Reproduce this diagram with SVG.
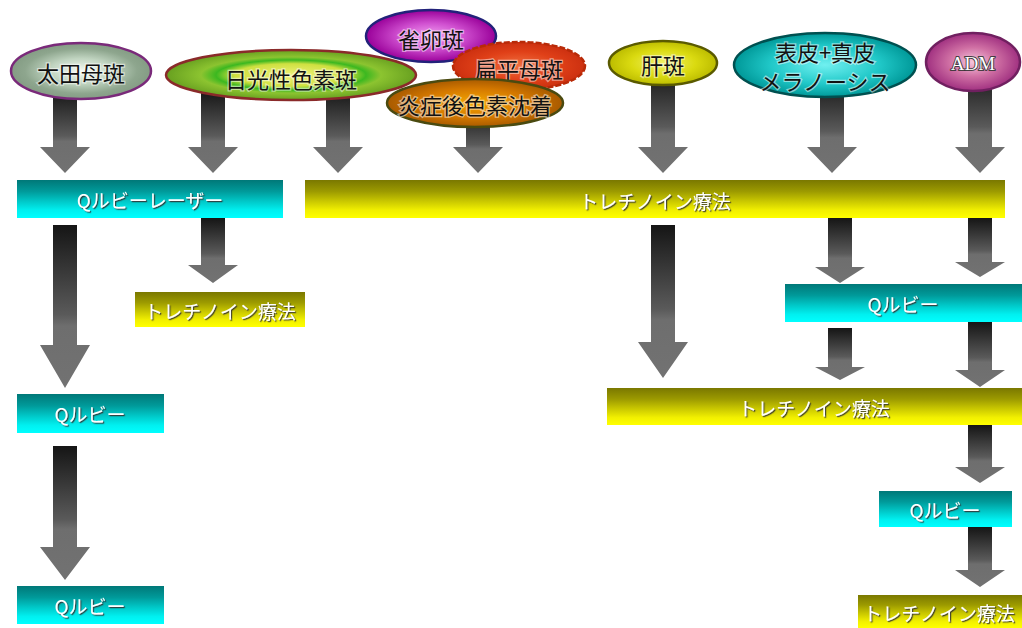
<svg xmlns="http://www.w3.org/2000/svg" width="1022" height="628" viewBox="0 0 1022 628">
<defs>
<linearGradient id="gTeal" x1="0" y1="0" x2="0" y2="1">
<stop offset="0" stop-color="#007878"/><stop offset="0.3" stop-color="#009a9a"/><stop offset="0.55" stop-color="#00c6c6"/><stop offset="0.8" stop-color="#00f0f0"/><stop offset="1" stop-color="#00ffff"/>
</linearGradient>
<linearGradient id="gYel" x1="0" y1="0" x2="0" y2="1">
<stop offset="0" stop-color="#7a7800"/><stop offset="0.3" stop-color="#9c9a00"/><stop offset="0.55" stop-color="#c8c600"/><stop offset="0.8" stop-color="#f2f000"/><stop offset="1" stop-color="#ffff00"/>
</linearGradient>
<linearGradient id="gArrow" x1="0" y1="0" x2="0" y2="1">
<stop offset="0" stop-color="#151515"/><stop offset="0.55" stop-color="#5a5a5a"/><stop offset="0.62" stop-color="#6e6e6e"/><stop offset="1" stop-color="#727272"/>
</linearGradient>
<radialGradient id="eOta"><stop offset="0" stop-color="#f4faf4"/><stop offset="0.45" stop-color="#c0d4c0"/><stop offset="0.8" stop-color="#8ea68e"/><stop offset="1" stop-color="#849c84"/></radialGradient>
<radialGradient id="eNik"><stop offset="0" stop-color="#eef27a"/><stop offset="0.45" stop-color="#cfe040"/><stop offset="0.6" stop-color="#3cb820"/><stop offset="0.72" stop-color="#8cc430"/><stop offset="1" stop-color="#68a020"/></radialGradient>
<radialGradient id="eJak"><stop offset="0" stop-color="#f2a0f2"/><stop offset="0.5" stop-color="#d050d0"/><stop offset="1" stop-color="#990099"/></radialGradient>
<radialGradient id="eHen"><stop offset="0" stop-color="#f07040"/><stop offset="0.6" stop-color="#e04018"/><stop offset="1" stop-color="#cc3010"/></radialGradient>
<radialGradient id="eEns"><stop offset="0" stop-color="#f4a800"/><stop offset="0.6" stop-color="#d47800"/><stop offset="1" stop-color="#a85a00"/></radialGradient>
<radialGradient id="eKan"><stop offset="0" stop-color="#f2f26a"/><stop offset="0.6" stop-color="#dada10"/><stop offset="1" stop-color="#bcbc00"/></radialGradient>
<radialGradient id="eHyo"><stop offset="0" stop-color="#70f0f0"/><stop offset="0.6" stop-color="#20c8c8"/><stop offset="1" stop-color="#009898"/></radialGradient>
<radialGradient id="eAdm"><stop offset="0" stop-color="#f6c6dc"/><stop offset="0.5" stop-color="#d070a4"/><stop offset="1" stop-color="#a03080"/></radialGradient>
<filter id="shadow" x="-10%" y="-30%" width="120%" height="160%">
<feDropShadow dx="1.2" dy="1.2" stdDeviation="0.6" flood-color="#333" flood-opacity="0.9"/>
</filter>
<style>
.bar text{font-family:"Noto Sans CJK JP","Noto Sans",sans-serif;font-size:19px;fill:#ffffff;text-anchor:middle;dominant-baseline:central;filter:url(#shadow);}
.teal{fill:url(#gTeal);}
.yel{fill:url(#gYel);}
.arrow{fill:url(#gArrow);}
.ell text{font-family:"Noto Sans CJK JP","Noto Sans",sans-serif;font-size:22px;fill:#111;text-anchor:middle;dominant-baseline:central;stroke:#fff;stroke-width:2.5;paint-order:stroke;stroke-opacity:0.5;}
.ell ellipse{stroke-width:2.5;}
</style>
</defs>
<rect width="1022" height="628" fill="#ffffff"/>

<g id="connectors">
<path class="arrow" d="M53,90 H77 V147 H90 L65,173 L40,147 H53 Z"/>
<path class="arrow" d="M201,90 H225 V147 H238 L213,173 L188,147 H201 Z"/>
<path class="arrow" d="M326,90 H350 V147 H363 L338,173 L313,147 H326 Z"/>
<path class="arrow" d="M466,110 H490 V147 H503 L478,173 L453,147 H466 Z"/>
<path class="arrow" d="M651,70 H675 V147 H688 L663,173 L638,147 H651 Z"/>
<path class="arrow" d="M820,80 H844 V147 H857 L832,173 L807,147 H820 Z"/>
<path class="arrow" d="M968,70 H992 V147 H1005 L980,173 L955,147 H968 Z"/>

<path class="arrow" d="M53,225 H77 V345 H90 L65,388 L40,345 H53 Z"/>
<path class="arrow" d="M201,218 H225 V265 H238 L213,283 L188,265 H201 Z"/>
<path class="arrow" d="M651,225 H675 V342 H688 L663,378 L638,342 H651 Z"/>
<path class="arrow" d="M828,218 H852 V267 H865 L840,283 L815,267 H828 Z"/>
<path class="arrow" d="M968,218 H992 V262 H1005 L980,277 L955,262 H968 Z"/>
<path class="arrow" d="M828,328 H852 V367 H865 L840,380 L815,367 H828 Z"/>
<path class="arrow" d="M968,322 H992 V370 H1005 L980,387 L955,370 H968 Z"/>
<path class="arrow" d="M968,425 H992 V467 H1005 L980,483 L955,467 H968 Z"/>
<path class="arrow" d="M968,527 H992 V570 H1005 L980,587 L955,570 H968 Z"/>
<path class="arrow" d="M53,446 H77 V547 H90 L65,580 L40,547 H53 Z"/>
</g>

<g id="ota" class="ell"><ellipse cx="81" cy="71" rx="70" ry="28" fill="url(#eOta)" stroke="#7a2a7a"/><text x="81" y="72">太田母斑</text></g>
<g id="nikko" class="ell"><ellipse cx="291" cy="75" rx="125" ry="25" fill="url(#eNik)" stroke="#8a2a2a"/><text x="291" y="78">日光性色素斑</text></g>
<g id="jakuran" class="ell"><ellipse cx="431" cy="36" rx="65" ry="26" fill="url(#eJak)" stroke="#22227a"/><text x="431" y="38">雀卵斑</text></g>
<g id="henpei" class="ell"><ellipse cx="519" cy="66" rx="66" ry="24" fill="url(#eHen)" stroke="#b82a08" stroke-dasharray="6 2"/><text x="519" y="68">扁平母斑</text></g>
<g id="ensho" class="ell"><ellipse cx="475" cy="103" rx="88" ry="24" fill="url(#eEns)" stroke="#4a4a10"/><text x="475" y="104">炎症後色素沈着</text></g>
<g id="kanpan" class="ell"><ellipse cx="663" cy="63" rx="54" ry="22" fill="url(#eKan)" stroke="#5a5a00"/><text x="663" y="64">肝斑</text></g>
<g id="hyohi" class="ell"><ellipse cx="825" cy="65" rx="91" ry="32" fill="url(#eHyo)" stroke="#005050"/><text x="825" y="51">表皮+真皮</text><text x="825" y="80">メラノーシス</text></g>
<g id="adm" class="ell"><ellipse cx="973" cy="62" rx="47" ry="29" fill="url(#eAdm)" stroke="#702060"/><text x="973" y="63" style="font-family:'Liberation Serif',serif;font-size:19px;fill:#fff;stroke:#333;stroke-width:2;stroke-opacity:0.9">ADM</text></g>

<g id="bar-qruby-laser" class="bar"><rect class="teal" x="17" y="180" width="266" height="38"/><text x="150" y="199">Qルビーレーザー</text></g>
<g id="bar-tret-main" class="bar"><rect class="yel" x="305" y="180" width="700" height="38"/><text x="655" y="200">トレチノイン療法</text></g>
<g id="bar-tret-small" class="bar"><rect class="yel" x="135" y="292" width="170" height="35"/><text x="220" y="310">トレチノイン療法</text></g>
<g id="bar-qruby-r1" class="bar"><rect class="teal" x="785" y="284" width="237" height="38"/><text x="903" y="303">Qルビー</text></g>
<g id="bar-tret-mid" class="bar"><rect class="yel" x="607" y="388" width="415" height="37"/><text x="814" y="407">トレチノイン療法</text></g>
<g id="bar-qruby-l1" class="bar"><rect class="teal" x="17" y="394" width="147" height="39"/><text x="90" y="413">Qルビー</text></g>
<g id="bar-qruby-l2" class="bar"><rect class="teal" x="17" y="586" width="147" height="38"/><text x="90" y="605">Qルビー</text></g>
<g id="bar-qruby-r2" class="bar"><rect class="teal" x="879" y="491" width="133" height="36"/><text x="945" y="509">Qルビー</text></g>
<g id="bar-tret-bottom" class="bar"><rect class="yel" x="858" y="595" width="164" height="33"/><text x="939" y="612">トレチノイン療法</text></g>
</svg>
